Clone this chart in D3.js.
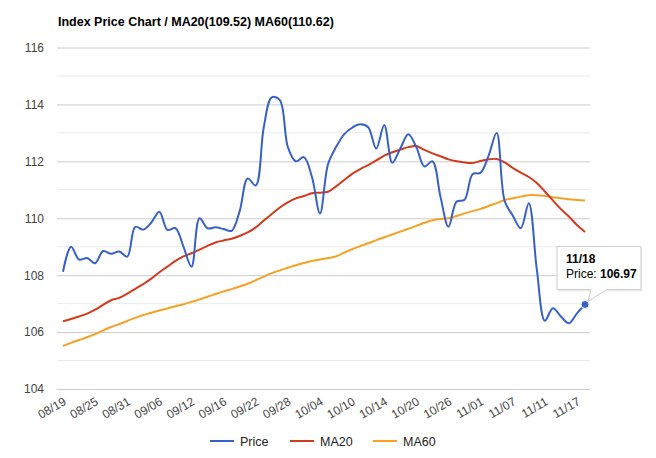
<!DOCTYPE html>
<html>
<head>
<meta charset="utf-8">
<script src="https://cdn.jsdelivr.net/npm/d3@7"></script>
<style>
  body { margin: 0; background: #fff; }
  text { font-family: Arial, "Liberation Sans", sans-serif; }
</style>
</head>
<body>
<div class="chart"></div>
<script>
// chart data
var dates = [
  "08/19", "08/20", "08/22", "08/23",
  "08/25", "08/26", "08/28", "08/29",
  "08/31", "09/01", "09/03", "09/04",
  "09/06", "09/07", "09/09", "09/10",
  "09/12", "09/13", "09/14", "09/15",
  "09/16", "09/17", "09/19", "09/20",
  "09/22", "09/23", "09/25", "09/26",
  "09/28", "09/29", "10/01", "10/02",
  "10/04", "10/05", "10/07", "10/08",
  "10/10", "10/11", "10/12", "10/13",
  "10/14", "10/15", "10/17", "10/18",
  "10/20", "10/21", "10/23", "10/24",
  "10/26", "10/27", "10/29", "10/30",
  "11/01", "11/02", "11/04", "11/05",
  "11/07", "11/08", "11/09", "11/10",
  "11/11", "11/12", "11/14", "11/15",
  "11/17", "11/18"
];

var price = [
  108.12, 109.0, 108.55, 108.6, 108.42, 108.85, 108.75, 108.83,
  108.65, 109.7, 109.6, 109.85, 110.23, 109.59, 109.65, 109.0,
  108.3, 110.0, 109.65, 109.68, 109.62, 109.56, 110.25, 111.4,
  111.15, 113.2, 114.25, 114.15, 112.5, 112.0, 112.15, 111.45,
  110.17, 111.9, 112.5, 112.95, 113.18, 113.3, 113.2, 112.45,
  113.28, 111.95, 112.45, 112.95, 112.5, 111.82, 112.0, 110.76,
  109.7, 110.58, 110.65, 111.55, 111.6, 112.2, 113.0, 110.6,
  110.1, 109.65, 110.53, 108.2, 106.4, 106.84, 106.55, 106.31,
  106.66, 106.97
];

var ma20 = [
  106.38, 106.46, 106.55, 106.65, 106.79, 106.96, 107.12, 107.2,
  107.35, 107.52, 107.69, 107.88, 108.1, 108.3, 108.5, 108.66,
  108.77, 108.9, 109.03, 109.15, 109.22, 109.28, 109.38, 109.5,
  109.68, 109.92, 110.15, 110.38, 110.56, 110.7, 110.78, 110.88,
  110.9, 110.93, 111.12, 111.34, 111.56, 111.73, 111.87, 112.03,
  112.2, 112.32, 112.41, 112.5, 112.54, 112.4, 112.28, 112.18,
  112.07, 112.0, 111.96, 111.94, 112.01, 112.07, 112.08, 111.96,
  111.77, 111.6, 111.45, 111.24, 110.94, 110.63, 110.32, 110.06,
  109.76, 109.52
];

var ma60 = [
  105.51, 105.62, 105.72, 105.82, 105.93, 106.06, 106.18, 106.28,
  106.39, 106.5, 106.6, 106.68, 106.76, 106.83, 106.91, 106.98,
  107.06, 107.15, 107.24, 107.34, 107.43, 107.51, 107.6, 107.7,
  107.82, 107.95, 108.07, 108.17, 108.26, 108.35, 108.43, 108.5,
  108.55, 108.6, 108.66, 108.79, 108.91, 109.02, 109.12, 109.23,
  109.33, 109.43, 109.53, 109.63, 109.73, 109.84, 109.93, 109.97,
  110.0, 110.08, 110.17, 110.25, 110.33, 110.43, 110.53, 110.64,
  110.7, 110.76, 110.81, 110.81, 110.78, 110.74, 110.7, 110.67,
  110.64, 110.62
];

var seriesNames = ["Price", "MA20", "MA60"];
var seriesColors = ["#3761c6", "#d23a1e", "#f7a124"];
var yTicks = [104, 106, 108, 110, 112, 114, 116];
var yMinorTicks = [105, 107, 109, 111, 113, 115];

var title = "Index Price Chart / MA20(" + ma20[ma20.length - 1].toFixed(2) +
  ") MA60(" + ma60[ma60.length - 1].toFixed(2) + ")";

// svg size
var svgWidth = 656;
var svgHeight = 458;

var svg = d3.select(".chart")
  .append("svg")
  .attr("width", svgWidth)
  .attr("height", svgHeight);

// scales
var xScale = d3.scalePoint()
  .domain(dates)
  .range([63, 585]);

var yScale = d3.scaleLinear()
  .domain([104, 116])
  .range([389, 47.5]);

var gridLeft = 57;
var gridRight = 590;

// title
svg.append("text")
  .attr("x", 58)
  .attr("y", 26)
  .attr("font-size", 12.5)
  .attr("font-weight", "bold")
  .attr("fill", "#000")
  .text(title);

// minor gridlines
svg.append("g")
  .selectAll("line")
  .data(yMinorTicks)
  .enter()
  .append("line")
  .attr("x1", gridLeft)
  .attr("x2", gridRight)
  .attr("y1", d => yScale(d))
  .attr("y2", d => yScale(d))
  .attr("stroke", "#ebebeb")
  .attr("stroke-width", 1);

// y axis (major gridlines + labels)
var leftAxis = d3.axisLeft(yScale)
  .tickValues(yTicks)
  .tickSize(-(gridRight - gridLeft))
  .tickPadding(13);

var yAxisGroup = svg.append("g")
  .attr("transform", `translate(${gridLeft}, 0)`)
  .call(leftAxis);

yAxisGroup.select(".domain").remove();
yAxisGroup.selectAll(".tick line")
  .attr("stroke", "#cccccc");
yAxisGroup.selectAll(".tick text")
  .attr("font-size", 12)
  .attr("fill", "#444");

// x axis labels, every 4th date, rotated
var xLabels = dates.filter((d, i) => i % 4 === 0);

svg.append("g")
  .selectAll("text")
  .data(xLabels)
  .enter()
  .append("text")
  .attr("transform", d => `translate(${xScale(d) + 4}, 404) rotate(-30)`)
  .attr("text-anchor", "end")
  .attr("font-size", 12)
  .attr("fill", "#444")
  .text(d => d);

// lines
var allSeries = [price, ma20, ma60];

var lineGen = d3.line()
  .x((d, i) => xScale(dates[i]))
  .y(d => yScale(d))
  .curve(d3.curveCatmullRom.alpha(0.5));

// draw MA60 first so price sits on top
svg.append("g")
  .selectAll("path")
  .data([2, 1, 0])
  .enter()
  .append("path")
  .attr("d", k => lineGen(allSeries[k]))
  .attr("fill", "none")
  .attr("stroke", k => seriesColors[k])
  .attr("stroke-width", 2);

// highlighted last point + tooltip
var lastI = dates.length - 1;
var px = xScale(dates[lastI]);
var py = yScale(price[lastI]);

var tip = svg.append("g");

var boxX = px - 28, boxY = py - 58, boxW = 84, boxH = 43;

tip.append("rect")
  .attr("x", boxX + 1)
  .attr("y", boxY + 2)
  .attr("width", boxW)
  .attr("height", boxH)
  .attr("fill", "#000")
  .attr("opacity", 0.08);

tip.append("path")
  .attr("d", `M${boxX},${boxY} H${boxX + boxW} V${boxY + boxH} H${px + 22} L${px + 3},${py - 3} L${px + 6},${boxY + boxH} H${boxX} Z`)
  .attr("fill", "#fff")
  .attr("stroke", "#cccccc")
  .attr("stroke-width", 1);

tip.append("text")
  .attr("x", boxX + 9)
  .attr("y", boxY + 17)
  .attr("font-size", 12)
  .attr("font-weight", "bold")
  .attr("fill", "#000")
  .text(dates[lastI]);

var tipLine = tip.append("text")
  .attr("x", boxX + 9)
  .attr("y", boxY + 32)
  .attr("font-size", 12)
  .attr("fill", "#000");
tipLine.append("tspan").text("Price: ");
tipLine.append("tspan").attr("font-weight", "bold").text(price[lastI].toFixed(2));

svg.append("circle")
  .attr("cx", px)
  .attr("cy", py)
  .attr("r", 4)
  .attr("fill", seriesColors[0])
  .attr("stroke", "#fff")
  .attr("stroke-width", 1);

// legend
var legendX = [210, 290, 373];
var legend = svg.append("g")
  .selectAll("g")
  .data(seriesNames)
  .enter()
  .append("g")
  .attr("transform", (d, i) => `translate(${legendX[i]}, 441)`);

legend.append("line")
  .attr("x1", 0)
  .attr("x2", 24)
  .attr("stroke", (d, i) => seriesColors[i])
  .attr("stroke-width", 2);

legend.append("text")
  .attr("x", 30)
  .attr("y", 4.5)
  .attr("font-size", 12.5)
  .attr("fill", "#222")
  .text(d => d);
</script>
</body>
</html>
